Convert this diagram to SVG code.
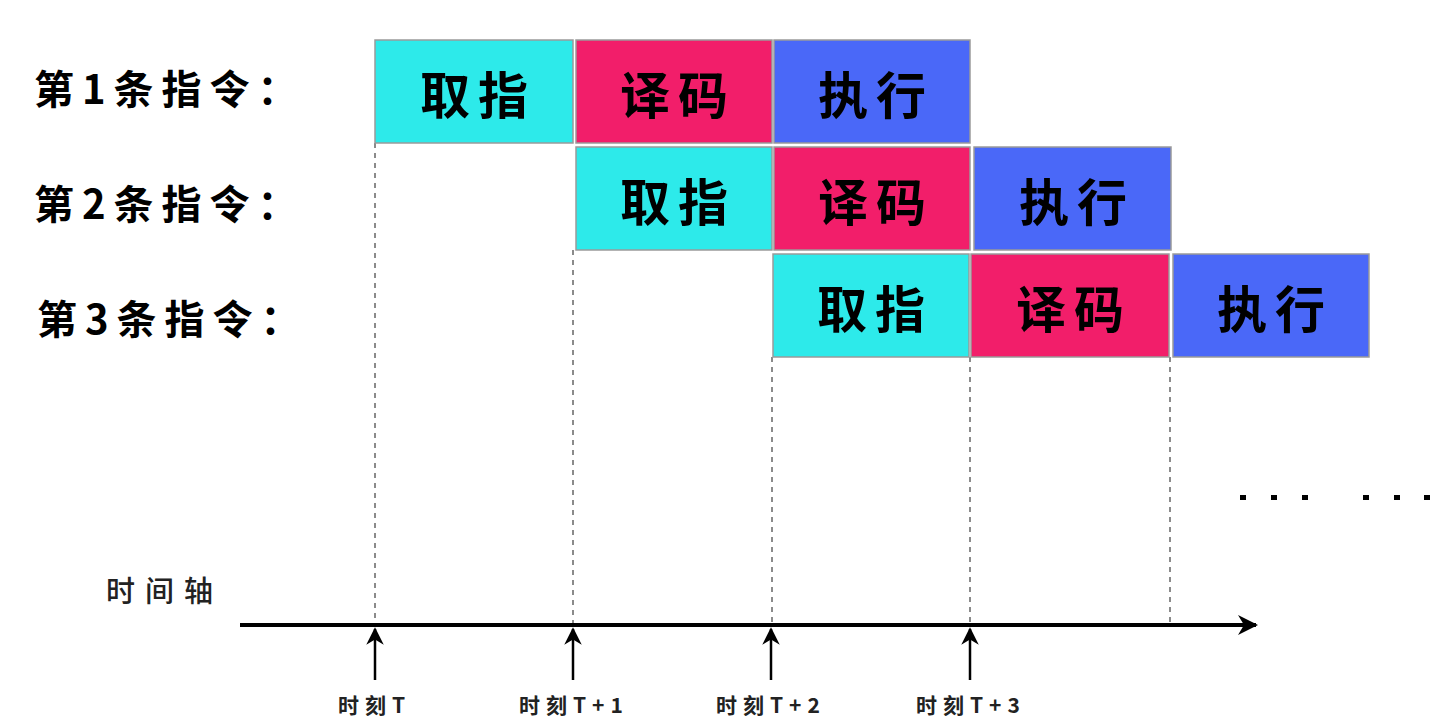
<svg xmlns="http://www.w3.org/2000/svg" width="1441" height="725" viewBox="0 0 1441 725">
<style>
.lbl{font-family:"Noto Sans CJK SC","Noto Sans",sans-serif;font-weight:bold;font-size:40px;letter-spacing:8px;fill:#000}
.bx{stroke:#9a9a9a;stroke-width:1.5}
.f{fill:#2DEAEA}.d{fill:#F21E6A}.e{fill:#4A68F8}
.bt{font-family:"Noto Sans CJK SC","Noto Sans",sans-serif;font-weight:bold;font-size:50px;letter-spacing:8px;fill:#000;text-anchor:middle;dominant-baseline:central}
.dash{stroke:#666;stroke-width:1.5;stroke-dasharray:5 5;fill:none}
.tk{font-family:"Noto Sans CJK SC","Noto Sans",sans-serif;font-weight:bold;font-size:21px;letter-spacing:6px;fill:#222}
.ax{font-family:"Noto Sans CJK SC","Noto Sans",sans-serif;font-weight:500;font-size:29px;letter-spacing:10px;fill:#222}
</style>
<defs>
<marker id="ah" viewBox="0 0 10 10" refX="9" refY="5" markerWidth="5" markerHeight="5" orient="auto" markerUnits="strokeWidth"><path d="M0,0 L10,5 L0,10 L3,5 z" fill="#000"/></marker>
<marker id="ah2" viewBox="0 0 10 10" refX="9" refY="5" markerWidth="7" markerHeight="7" orient="auto" markerUnits="strokeWidth"><path d="M0,0 L10,5 L0,10 L3,5 z" fill="#000"/></marker>
</defs>
<rect width="1441" height="725" fill="#fff"/>
<g id="labels">
<text class="lbl" x="34" y="104">第1条指令：</text>
<text class="lbl" x="34" y="219">第2条指令：</text>
<text class="lbl" x="37" y="334">第3条指令：</text>
<text class="ax" x="106" y="602">时间轴</text>
</g>
<g id="connectors">
<line class="dash" x1="375" y1="143" x2="375" y2="624"/>
<line class="dash" x1="573" y1="250" x2="573" y2="624"/>
<line class="dash" x1="772" y1="357" x2="772" y2="624"/>
<line class="dash" x1="970" y1="357" x2="970" y2="624"/>
<line class="dash" x1="1170" y1="357" x2="1170" y2="622"/>
<line x1="240" y1="625" x2="1256" y2="625" stroke="#000" stroke-width="4" marker-end="url(#ah)"/>
<line x1="375" y1="680" x2="375" y2="629" stroke="#000" stroke-width="2.5" marker-end="url(#ah2)"/>
<line x1="573" y1="680" x2="573" y2="629" stroke="#000" stroke-width="2.5" marker-end="url(#ah2)"/>
<line x1="771" y1="680" x2="771" y2="629" stroke="#000" stroke-width="2.5" marker-end="url(#ah2)"/>
<line x1="970" y1="680" x2="970" y2="629" stroke="#000" stroke-width="2.5" marker-end="url(#ah2)"/>
</g>
<g id="row1">
<g id="r1-fetch"><rect class="bx f" x="375" y="40" width="198" height="103"/><text class="bt" x="478" y="92">取指</text></g>
<g id="r1-decode"><rect class="bx d" x="576" y="40" width="196" height="103"/><text class="bt" x="678" y="92">译码</text></g>
<g id="r1-exec"><rect class="bx e" x="774" y="40" width="196" height="103"/><text class="bt" x="876" y="92">执行</text></g>
</g>
<g id="row2">
<g id="r2-fetch"><rect class="bx f" x="576" y="147" width="196" height="103"/><text class="bt" x="678" y="199">取指</text></g>
<g id="r2-decode"><rect class="bx d" x="774" y="147" width="196" height="103"/><text class="bt" x="876" y="199">译码</text></g>
<g id="r2-exec"><rect class="bx e" x="974" y="147" width="197" height="103"/><text class="bt" x="1077" y="199">执行</text></g>
</g>
<g id="row3">
<g id="r3-fetch"><rect class="bx f" x="773" y="254" width="196" height="103"/><text class="bt" x="875" y="306">取指</text></g>
<g id="r3-decode"><rect class="bx d" x="971" y="254" width="198" height="103"/><text class="bt" x="1074" y="306">译码</text></g>
<g id="r3-exec"><rect class="bx e" x="1173" y="254" width="196" height="103"/><text class="bt" x="1275" y="306">执行</text></g>
</g>
<g id="dots" fill="#000">
<rect x="1240" y="495" width="6" height="5"/><rect x="1271" y="495" width="6" height="5"/><rect x="1302" y="495" width="6" height="5"/>
<rect x="1363" y="495" width="6" height="5"/><rect x="1394" y="495" width="6" height="5"/><rect x="1424" y="495" width="6" height="5"/>
</g>
<g id="ticks">
<text class="tk" x="338" y="713">时刻T</text>
<text class="tk" x="519" y="713">时刻T+1</text>
<text class="tk" x="716" y="713">时刻T+2</text>
<text class="tk" x="916" y="713">时刻T+3</text>
</g>
</svg>
